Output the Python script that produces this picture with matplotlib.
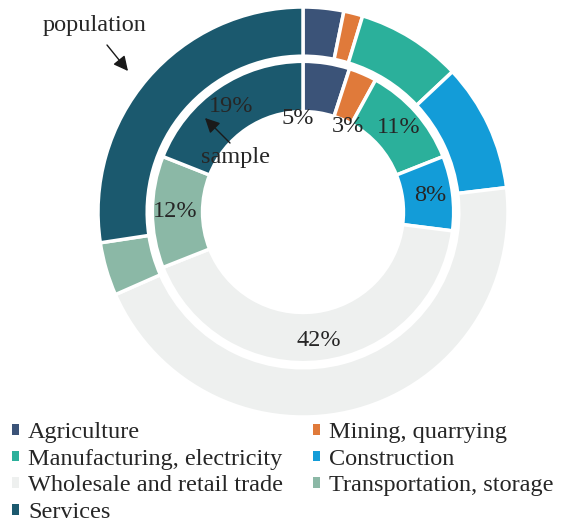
import numpy as np
import matplotlib.pyplot as plt
from matplotlib.patches import Patch

# industries, clockwise from 12 o'clock
categories = ["Agriculture", "Mining, quarrying", "Manufacturing, electricity",
              "Construction", "Wholesale and retail trade",
              "Transportation, storage", "Services"]
population = [3.2, 1.5, 8.3, 10.1, 45.3, 4.2, 27.4]   # outer ring
sample = [5, 3, 11, 8, 42, 12, 19]                    # inner ring, labelled
sample_labels = ["5%", "3%", "11%", "8%", "42%", "12%", "19%"]

colors = ["#3b5378", "#e07a3a", "#2bb09b", "#139cd8",
          "#eef0ef", "#8bb8a6", "#1b596e"]
# label placement: radius, and shift in degrees (clockwise) from wedge middle
label_r = [0.455, 0.47, 0.625, 0.625, 0.63, 0.625, 0.625]
label_shift = [-12, 4.5, 0, 0, 0, 0, 0]

plt.rcParams['font.family'] = ['Liberation Serif', 'DejaVu Serif']
txt_color = "#262626"
fs = 17.5


def main():
    W, H = 561, 523
    fig = plt.figure(figsize=(W / 100, H / 100), dpi=100)
    # pie axes: centre (303, 212) px, radius 205 px
    cx, cy, R = 303, 212, 205
    ax = fig.add_axes([(cx - R) / W, (H - cy - R) / H, 2 * R / W, 2 * R / H])

    wp = dict(edgecolor='white', linewidth=2.5)
    wedges, _ = ax.pie(population, radius=1.0, colors=colors, startangle=90,
                       counterclock=False, wedgeprops=dict(width=0.24, **wp))
    inner, _ = ax.pie(sample, radius=0.735, colors=colors, startangle=90,
                      counterclock=False, wedgeprops=dict(width=0.245, **wp))
    ax.set_xlim(-1, 1)
    ax.set_ylim(-1, 1)
    ax.axis('off')

    for w, lab, r, sh in zip(inner, sample_labels, label_r, label_shift):
        ang = np.deg2rad((w.theta1 + w.theta2) / 2 - sh)
        ax.text(r * np.cos(ang), r * np.sin(ang), lab, ha='center', va='center',
                fontsize=fs, color=txt_color)

    def px(x, y):
        return ((x - cx) / R, (cy - y) / R)

    arrow = dict(arrowstyle='-|>', color='#1a1a1a', lw=1.0, mutation_scale=22,
                 shrinkA=0, shrinkB=0)
    ax.text(*px(95, 25), "population", ha='center', va='center', fontsize=fs,
            color=txt_color, clip_on=False)
    ax.annotate('', xy=px(128, 71), xytext=px(107, 45), arrowprops=arrow,
                annotation_clip=False)
    ax.text(*px(236, 157), "sample", ha='center', va='center', fontsize=fs,
            color=txt_color)
    ax.annotate('', xy=px(205, 118), xytext=px(230, 143), arrowprops=arrow)

    # legend filled row by row
    handles = [Patch(facecolor=c, edgecolor='none') for c in colors]
    order = [0, 2, 4, 6, 1, 3, 5]
    fig.legend([handles[i] for i in order], [categories[i] for i in order],
               ncol=2, loc='lower left', bbox_to_anchor=(-0.005, -0.028),
               frameon=False, fontsize=fs, handlelength=0.3, handleheight=0.3,
               handletextpad=0.37, labelspacing=0.23, columnspacing=1.22,
               borderaxespad=0.2, labelcolor=txt_color)

    fig.savefig("out.png", dpi=100)


if __name__ == '__main__':
    main()
